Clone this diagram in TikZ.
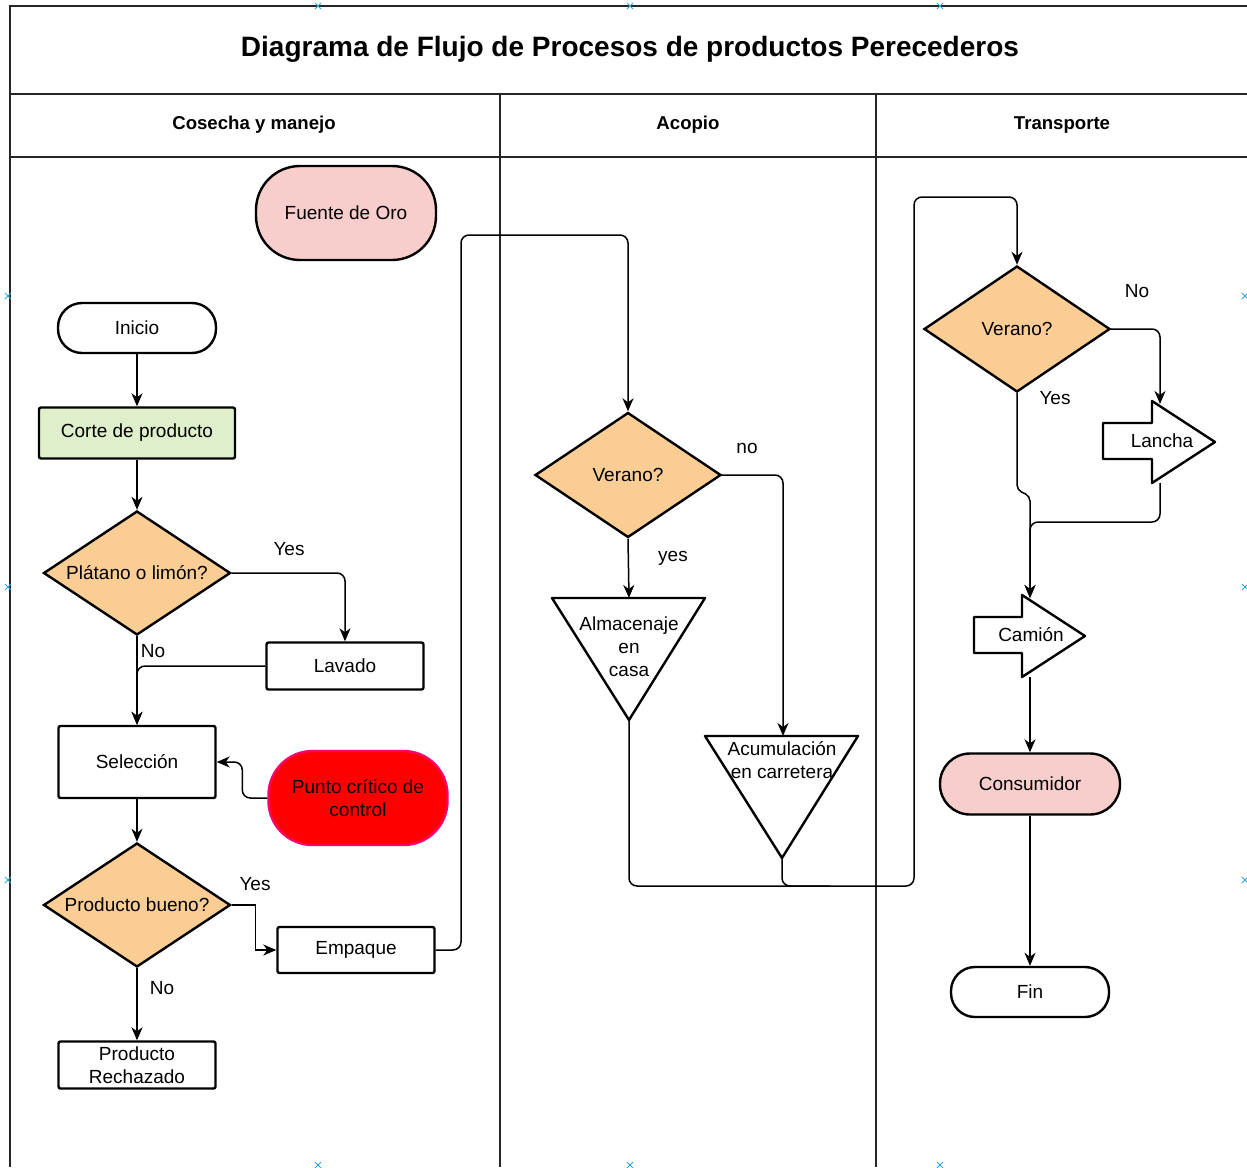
\documentclass[tikz,border=0pt]{standalone}
\usepackage{fontspec}
\setmainfont{Liberation Sans}
\usetikzlibrary{shapes.geometric,arrows.meta}
\definecolor{orng}{HTML}{FACD94}
\definecolor{pnk}{HTML}{F8CECC}
\definecolor{grn}{HTML}{DFEECB}
\definecolor{mkr}{HTML}{29A8E0}
\definecolor{pcborder}{HTML}{FF0066}
\begin{document}
\begin{tikzpicture}[x=1pt,y=-1pt,
  txt/.style={font=\fontsize{19}{23}\selectfont, align=center, text=black},
  bx/.style={draw, line width=2.4pt, rounded corners=2pt, inner sep=0pt, txt},
  term/.style={draw, line width=2.4pt, inner sep=0pt, fill=white, txt},
  dec/.style={draw, line width=2.4pt, shape=diamond, aspect=1.5, inner sep=0pt, fill=orng,
              minimum width=187pt, minimum height=124pt, txt},
  conn/.style={line width=1.5pt, -{Stealth[length=13pt,width=11pt,inset=4pt]}, rounded corners=8pt},
  plain/.style={line width=1.5pt, rounded corners=8pt},
  lane/.style={line width=1.3pt, draw=black!85},
  shp/.style={draw, line width=2.4pt, line join=round, fill=white},
  hdr/.style={font=\bfseries\fontsize{18.6}{22}\selectfont},
  lbl/.style={txt}]

\useasboundingbox (0,0) rectangle (1247,1167);

% frame and lanes
\draw[lane, line width=2pt] (10,1167) -- (10,6) -- (1247,6);
\draw[lane] (10,94) -- (1247,94);
\draw[lane] (10,157) -- (1247,157);
\draw[lane] (500,94) -- (500,1167);
\draw[lane] (876,94) -- (876,1167);

\node[font=\bfseries\fontsize{28}{32}\selectfont] (title) at (630,49) {Diagrama de Flujo de Procesos de productos Perecederos};
\node[hdr] (h1) at (254,125) {Cosecha y manejo};
\node[hdr] (h2) at (688,125) {Acopio};
\node[hdr] (h3) at (1062,125) {Transporte};

% markers
\foreach \x/\y in {318/6,630/6,940/6,8/296,8/587,8/880,1245/296,1245/587,1245/880,318/1165,630/1165,940/1165}
  \draw[mkr, line width=0.9pt] (\x-3,\y-3) -- (\x+3,\y+3) (\x-3,\y+3) -- (\x+3,\y-3);

% lane 1
\node[term, fill=pnk, minimum width=180pt, minimum height=94pt, rounded corners=44pt] (fuente) at (346,213) {Fuente de Oro};
\node[term, minimum width=158pt, minimum height=50pt, rounded corners=24pt] (ini) at (137,328) {Inicio};
\node[bx, fill=grn, minimum width=196pt, minimum height=51pt] (corte) at (137,433) {Corte de producto};
\node[dec] (plat) at (137,573) {Plátano o limón?};
\node[bx, minimum width=157pt, minimum height=47pt] (lav) at (345,666) {Lavado};
\node[bx, minimum width=157pt, minimum height=72pt] (sel) at (137,762) {Selección};
\node[term, fill=red, draw=pcborder, minimum width=179pt, minimum height=94pt, rounded corners=44pt] (pcc) at (358,798) {Punto crítico de\\control};
\node[dec] (pb) at (137,905) {Producto bueno?};
\node[bx, minimum width=157pt, minimum height=46pt] (emp) at (356,950) {Empaque};
\node[bx, minimum width=157pt, minimum height=47pt] (rech) at (137,1065) {Producto\\Rechazado};

% lane 2
\node[dec, minimum width=186pt, minimum height=125pt] (ver1) at (628,475) {Verano?};
\draw[shp] (552,598) -- (705,598) -- (629,720) -- cycle;
\node[txt] (alm) at (629,647) {Almacenaje\\en\\casa};
\coordinate (almtop) at (629,598);
\coordinate (almbot) at (629,720);
\draw[shp] (705,736) -- (858,736) -- (782,858) -- cycle;
\node[txt] (acu) at (782,760) {Acumulación\\en carretera};
\coordinate (acutop) at (783,736);
\coordinate (acubot) at (782,858);

% lane 3
\node[dec, minimum width=186pt, minimum height=126pt] (ver2) at (1017,329) {Verano?};
\draw[shp] (1103,423) -- (1152,423) -- (1152,401) -- (1215,442) -- (1152,483) -- (1152,459) -- (1103,459) -- cycle;
\node[txt] (lan) at (1162,441) {Lancha};
\coordinate (lantop) at (1160,404);
\coordinate (lanbot) at (1160,483);
\draw[shp] (974,617) -- (1022,617) -- (1022,595) -- (1085,636) -- (1022,677) -- (1022,653) -- (974,653) -- cycle;
\node[txt] (cam) at (1031,635) {Camión};
\coordinate (camtop) at (1030,598);
\coordinate (cambot) at (1030,677);
\node[term, fill=pnk, minimum width=180pt, minimum height=61pt, rounded corners=30pt] (cons) at (1030,784) {Consumidor};
\node[term, minimum width=158pt, minimum height=50pt, rounded corners=24pt] (fin) at (1030,992) {Fin};

% connectors
\draw[conn] (ini) -- (corte);
\draw[conn] (corte) -- (plat);
\draw[conn] (plat.east) -| (lav.north);
\draw[conn] (plat.south) -- (sel.north);
\draw[conn] (lav.west) -| (sel.north);
\draw[conn] (sel) -- (pb);
\draw[conn] (pcc.west) -- ++(-25,0) |- (sel.east);
\draw[conn, rounded corners=0pt] (pb.east) -- ++(24,0) |- (emp.west);
\draw[conn] (pb.south) -- (rech.north);
\draw[conn] (emp.east) -| (461,235) -| (ver1.north);
\draw[conn] (ver1.south) -- (almtop);
\draw[conn] (ver1.east) -| (acutop);
\draw[conn] (almbot) |- (914,886) |- (1017,197) -- (ver2.north);
\draw[plain] (acubot) |- (830,886);
\draw[conn] (ver2.east) -| (lantop);
\draw[conn, rounded corners=5pt] (ver2.south) -- (1017,490) -- (1030,496) -- (camtop);
\draw[conn] (lanbot) -- (1160,522) -| (camtop);
\draw[conn] (cambot) -- (cons.north);
\draw[conn] (cons.south) -- (fin.north);

% labels
\node[lbl] (l1) at (289,549) {Yes};
\node[lbl] (l2) at (153,651) {No};
\node[lbl] (l3) at (255,884) {Yes};
\node[lbl] (l4) at (162,988) {No};
\node[lbl] (l5) at (747,448) {no};
\node[lbl] (l6) at (673,558) {yes};
\node[lbl] (l7) at (1137,291) {No};
\node[lbl] (l8) at (1055,398) {Yes};
\end{tikzpicture}
\end{document}
